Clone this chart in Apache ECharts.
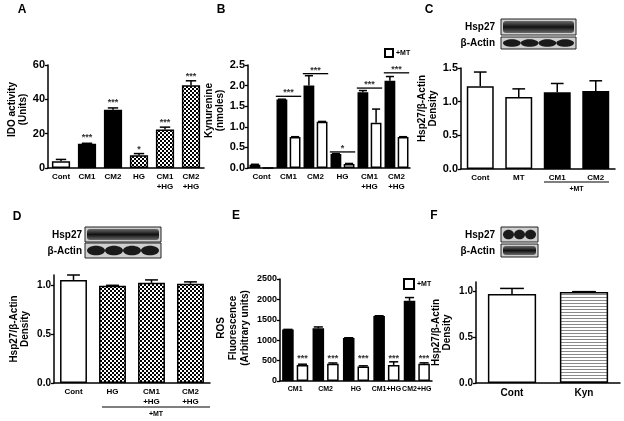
<!DOCTYPE html>
<html><head><meta charset="utf-8">
<script src="https://cdn.jsdelivr.net/npm/echarts@6/dist/echarts.min.js"></script>
<style>html,body{margin:0;padding:0;background:#fff}#c{width:624px;height:421px}</style>
</head><body><div id="c"></div>
<script>
// ---------- DATA ----------
// Panel A: IDO activity
const catsA = ['Cont','CM1','CM2','HG','CM1\n+HG','CM2\n+HG'];
const valsA = [3.9, 14.1, 34.0, 7.4, 22.4, 48.2];
const errA  = [5.0, 14.4, 35.0, 8.4, 23.8, 50.8];
const fillA = ['white','black','black','check','check','check'];
const starTextA = ['', '***', '***', '*', '***', '***'];
const starYA    = [null, 17.5, 38, 10.5, 26.5, 53.5];

// Panel B: Kynurenine
const catsB = ['Cont','CM1','CM2','HG','CM1\n+HG','CM2\n+HG'];
const blackB    = [0.08, 1.66, 2.00, 0.34, 1.84, 2.12];
const blackErrB = [0.09, 1.67, 2.24, 0.35, 1.88, 2.22];
const whiteB    = [0.00, 0.75, 1.12, 0.10, 1.10, 0.75];
const whiteErrB = [0.00, 0.76, 1.13, 0.11, 1.43, 0.76];
const sigYB     = [null, 1.74, 2.29, 0.39, 1.94, 2.31];
const sigTextB  = ['', '***', '***', '*', '***', '***'];

// Panel C: Hsp27 density
const catsC = ['Cont','MT','CM1','CM2'];
const valsC = [1.23, 1.07, 1.14, 1.16];
const errC  = [1.44, 1.19, 1.27, 1.31];
const fillC = ['white','white','black','black'];

// Panel D: Hsp27 density
const catsD = ['Cont','HG','CM1\n+HG','CM2\n+HG'];
const valsD = [1.05, 0.99, 1.02, 1.01];
const errD  = [1.10, 0.995, 1.05, 1.03];
const fillD = ['white','check','check','check'];
const ticksD = [0, 0.5, 1.0];

// Panel E: ROS fluorescence
const catsE = ['CM1','CM2','HG','CM1+HG','CM2+HG'];
const blackE    = [1260, 1290, 1055, 1595, 1965];
const blackErrE = [1265, 1325, 1060, 1600, 2045];
const whiteE    = [390, 420, 355, 395, 425];
const whiteErrE = [412, 442, 372, 470, 445];
const starYE    = [545, 545, 545, 545, 545];
const starTextE = ['***','***','***','***','***'];

// Panel F: Hsp27 density
const catsF = ['Cont','Kyn'];
const valsF = [0.97, 0.99];
const errF  = [1.03, 0.995];
const fillF = ['white','stripe'];
const ticksF = [0, 0.5, 1.0];

// ---------- STYLE HELPERS ----------
const FONT = 'Liberation Sans, Arial, sans-serif';
function mkCanvas(w,h,draw){const c=document.createElement('canvas');c.width=w;c.height=h;draw(c.getContext('2d'));return c;}
const checkImg = mkCanvas(4,4,g=>{g.fillStyle='#fff';g.fillRect(0,0,4,4);g.fillStyle='#000';g.fillRect(0,0,2,2);g.fillRect(2,2,2,2);});
const stripeImg = mkCanvas(4,3,g=>{g.fillStyle='#fff';g.fillRect(0,0,4,3);g.fillStyle='#8a8a8a';g.fillRect(0,0,4,1);});
function fillFor(k){
  if(k==='white') return '#ffffff';
  if(k==='black') return '#000000';
  if(k==='check') return {image:checkImg, repeat:'repeat'};
  if(k==='stripe') return {image:stripeImg, repeat:'repeat'};
}
const barBorder = {borderColor:'#000', borderWidth:1.5};

function xAx(gi, cats, fs){
  return {type:'category', gridIndex:gi, data:cats,
    axisLine:{lineStyle:{color:'#000',width:1.5}},
    axisTick:{alignWithLabel:true,length:3,lineStyle:{color:'#000',width:1.3}},
    axisLabel:{interval:0,fontSize:fs||8,fontWeight:'bold',color:'#000',fontFamily:FONT,margin:4,lineHeight:(fs||8)+2}};
}
function yAx(gi, max, interval, name, nameGap, fs, fmt, custom, pad, lh){
  const a = {type:'value', gridIndex:gi, min:0, max:max, interval:interval,
    splitLine:{show:false},
    axisLine:{show:true,lineStyle:{color:'#000',width:1.5}},
    axisTick:{show:true,length:3,lineStyle:{color:'#000',width:1.3}},
    axisLabel:{fontSize:fs||10,fontWeight:'bold',color:'#000',fontFamily:FONT,margin:3,formatter:fmt},
    name:name, nameLocation:'middle', nameGap:nameGap, nameRotate:90,
    nameTextStyle:{fontSize:10,fontWeight:'bold',color:'#000',fontFamily:FONT,lineHeight:lh||11,padding:pad||0}};
  if(custom){a.axisLabel.customValues=custom;a.axisTick.customValues=custom;}
  return a;
}
function barSeries(name, gi, vals, fills, width, gap){
  const s = {type:'bar', name:name, xAxisIndex:gi, yAxisIndex:gi, barWidth:width,
    data: vals.map((v,i)=>({value:v, itemStyle:Object.assign({color:fillFor(fills[i])},barBorder)})),
    itemStyle:Object.assign({color:fillFor(fills[0])},barBorder), z:3, silent:true};
  if(gap!==undefined) s.barGap=gap;
  return s;
}
function errSeries(gi, vals, errs, capFrac, offFn){
  return {type:'custom', xAxisIndex:gi, yAxisIndex:gi, z:4, silent:true,
    data: vals.map((v,i)=>[i,v,errs[i]]),
    renderItem:(p,api)=>{
      const i=api.value(0), v=api.value(1), e=api.value(2);
      if(!(e>v)) return {type:'group',children:[]};
      const cw=api.size([1,0])[0];
      const off=offFn?offFn(cw):0;
      const p0=api.coord([i,v]), p1=api.coord([i,e]);
      const x=p0[0]+off, cap=cw*capFrac;
      return {type:'group',children:[
        {type:'line',shape:{x1:x,y1:p0[1],x2:x,y2:p1[1]},style:{stroke:'#000',lineWidth:1.5}},
        {type:'line',shape:{x1:x-cap/2,y1:p1[1],x2:x+cap/2,y2:p1[1]},style:{stroke:'#000',lineWidth:1.5}}]};
    }};
}
function textSeries(gi, ys, texts, offFn, fs){
  return {type:'custom', xAxisIndex:gi, yAxisIndex:gi, z:5, silent:true,
    data: ys.map((y,i)=>[i,y]).filter(d=>d[1]!=null && texts[d[0]]),
    renderItem:(p,api)=>{
      const i=api.value(0), y=api.value(1);
      const cw=api.size([1,0])[0];
      const c=api.coord([i,y]);
      return {type:'text',style:{x:c[0]+(offFn?offFn(cw):0),y:c[1],text:texts[i],align:'center',verticalAlign:'middle',
        fontSize:fs||9,fontWeight:'bold',fontFamily:FONT,fill:'#333'}};
    }};
}
function sigSeries(gi, ys, texts){
  return {type:'custom', xAxisIndex:gi, yAxisIndex:gi, z:5, silent:true,
    data: ys.map((y,i)=>[i,y]).filter(d=>d[1]!=null && texts[d[0]]),
    renderItem:(p,api)=>{
      const i=api.value(0), y=api.value(1);
      const cw=api.size([1,0])[0];
      const c=api.coord([i,y]);
      return {type:'group',children:[
        {type:'line',shape:{x1:c[0]-cw*0.47,y1:c[1],x2:c[0]+cw*0.47,y2:c[1]},style:{stroke:'#000',lineWidth:1.3}},
        {type:'text',style:{x:c[0],y:c[1]+1,text:texts[i],align:'center',verticalAlign:'bottom',fontSize:9,fontWeight:'bold',fontFamily:FONT,fill:'#333'}}]};
    }};
}
// grouped offsets
const bwB=0.40, gB=0.22, bwE=0.38, gE=0.26;
const offB = s => cw => s*cw*bwB*(1+gB)/2;
const offE = s => cw => s*cw*bwE*(1+gE)/2;

// ---------- GRAPHICS (decorations) ----------
function txt(x,y,t,fs,align,extra){return Object.assign({type:'text',x:x,y:y,style:{text:t,fontSize:fs,fontWeight:'bold',fontFamily:FONT,fill:'#000',align:align||'center',verticalAlign:'middle'}},extra||{});}
function blot(x,y,w,h,kind,n){
  const ch=[{type:'rect',shape:{x:x,y:y,width:w,height:h},style:{fill:'#cfcfcf',stroke:'#222',lineWidth:1}}];
  if(kind==='band'){
    ch.push({type:'rect',shape:{x:x+2,y:y+2,width:w-4,height:h-4,r:3},style:{fill:new echarts.graphic.LinearGradient(0,0,0,1,[{offset:0,color:'#6a6a6a'},{offset:0.5,color:'#111'},{offset:1,color:'#6a6a6a'}])}});
  } else {
    const seg=(w-4)/n;
    for(let k=0;k<n;k++){
      ch.push({type:'ellipse',shape:{cx:x+2+seg*(k+0.5),cy:y+h/2,rx:seg*0.5,ry:h*0.32},style:{fill:'#1a1a1a'}});
    }
  }
  return {type:'group',children:ch,silent:true};
}
function bracket(x1,x2,y,label,ty){
  return [{type:'line',shape:{x1:x1,y1:y,x2:x2,y2:y},style:{stroke:'#000',lineWidth:1.2}},
          txt((x1+x2)/2,ty,label,7)];
}

const graphics = [
  txt(22,10,'A',12), txt(221,10,'B',12), txt(429,10,'C',12),
  txt(17,217,'D',12), txt(236,216,'E',12), txt(434,216,'F',12),
  // blots C
  txt(495,27,'Hsp27',10,'right'), txt(495,43,'β-Actin',10,'right'),
  blot(501,19,75,16,'band'), blot(501,37,75,12,'blobs',4),
  // blots D
  txt(82,235,'Hsp27',10,'right'), txt(82,251,'β-Actin',10,'right'),
  blot(85,227,76,15,'band'), blot(85,243,76,15,'blobs',4),
  // blots F
  txt(495,235,'Hsp27',10,'right'), txt(495,251,'β-Actin',10,'right'),
  blot(501,227,37,15,'blobs',3), blot(501,244,37,13,'band'),
  ...bracket(544,609,182,'+MT',189),
  ...bracket(102,210,407,'+MT',414)
];

// ---------- OPTION ----------
const option = {
  animation:false,
  backgroundColor:'#fff',
  textStyle:{fontFamily:FONT},
  grid:[
    {left:48, top:65, width:156, height:103},
    {left:248, top:65, width:162, height:103},
    {left:461, top:68, width:154, height:101},
    {left:54, top:275, width:156, height:108},
    {left:280, top:279, width:152, height:102},
    {left:476, top:282, width:144, height:101}
  ],
  xAxis:[ xAx(0,catsA), xAx(1,catsB), xAx(2,catsC), xAx(3,catsD), xAx(4,catsE,7), xAx(5,catsF,10) ],
  yAxis:[
    yAx(0,60,20,'IDO activity\n(Units)',18,11,null,null,[0,0,0,14]),
    yAx(1,2.5,0.5,'Kynurenine\n(nmoles)',21,11,v=>v.toFixed(1),null,[0,0,0,12]),
    yAx(2,1.5,0.5,'Hsp27/β-Actin\nDensity',14,11,v=>v.toFixed(1),null,[0,0,0,20]),
    yAx(3,1.1,0.5,'Hsp27/β-Actin\nDensity',23,10,v=>v.toFixed(1),ticksD),
    yAx(4,2500,500,'ROS\nFluorescence\n(Arbitrary units)',29,9,v=>String(v),null,[0,0,0,4],12),
    yAx(5,1.1,0.5,'Hsp27/β-Actin\nDensity',23,10,v=>v.toFixed(1),ticksF)
  ],
  legend:[
    {data:['B +MT'], left:384, top:48, itemWidth:8, itemHeight:8, icon:'rect', padding:0, itemGap:0,
     formatter:()=>'+MT', textStyle:{fontSize:7,fontWeight:'bold',color:'#000',fontFamily:FONT,padding:[0,0,0,-2]}, selectedMode:false},
    {data:['E +MT'], left:403, top:278, itemWidth:10, itemHeight:10, icon:'rect', padding:0, itemGap:0,
     formatter:()=>'+MT', textStyle:{fontSize:7,fontWeight:'bold',color:'#000',fontFamily:FONT,padding:[0,0,0,-2]}, selectedMode:false}
  ],
  graphic: graphics,
  series:[
    // A
    barSeries('A',0,valsA,fillA,'70%'),
    errSeries(0,valsA,errA,0.4),
    textSeries(0,starYA,starTextA),
    // B
    barSeries('B ctrl',1,blackB,blackB.map(()=>'black'),(bwB*100)+'%',(gB*100)+'%'),
    barSeries('B +MT',1,whiteB,whiteB.map(()=>'white'),(bwB*100)+'%',(gB*100)+'%'),
    errSeries(1,blackB,blackErrB,0.3,offB(-1)),
    errSeries(1,whiteB,whiteErrB,0.3,offB(1)),
    sigSeries(1,sigYB,sigTextB),
    // C
    barSeries('C',2,valsC,fillC,'70%'),
    errSeries(2,valsC,errC,0.33),
    // D
    barSeries('D',3,valsD,fillD,'69%'),
    errSeries(3,valsD,errD,0.33),
    // E
    barSeries('E ctrl',4,blackE,blackE.map(()=>'black'),(bwE*100)+'%',(gE*100)+'%'),
    barSeries('E +MT',4,whiteE,whiteE.map(()=>'white'),(bwE*100)+'%',(gE*100)+'%'),
    errSeries(4,blackE,blackErrE,0.3,offE(-1)),
    errSeries(4,whiteE,whiteErrE,0.3,offE(1)),
    textSeries(4,starYE,starTextE,offE(1)),
    // F
    barSeries('F',5,valsF,fillF,'67%'),
    errSeries(5,valsF,errF,0.33)
  ]
};
const chart = echarts.init(document.getElementById('c'),null,{renderer:'canvas'});
chart.setOption(option);
</script></body></html>
